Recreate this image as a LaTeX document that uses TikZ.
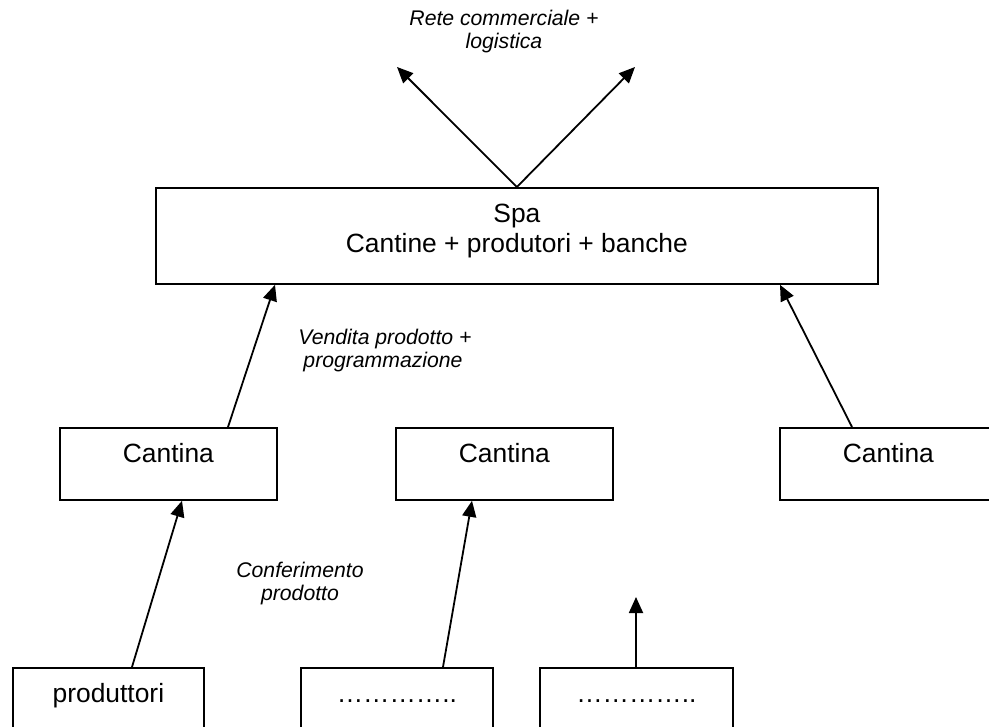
\documentclass[tikz,border=0pt]{standalone}
\usepackage{fontspec}
\setmainfont{Liberation Sans}
\usetikzlibrary{arrows.meta}
\begin{document}
\begin{tikzpicture}[x=1pt,y=-1pt,
  boxx/.style={draw=black,line width=1.8pt,rectangle,anchor=north west,inner sep=0pt},
  btxt/.style={anchor=base,inner sep=0pt,font=\fontsize{26.4}{30}\selectfont},
  itxt/.style={anchor=base,inner sep=0pt,font=\fontsize{21.2}{23}\selectfont\itshape},
  arr/.style={line width=1.8pt,-{Triangle[length=16pt,width=14pt]}}]
\useasboundingbox (0,0) rectangle (989,727);
% boxes
\node[boxx,minimum width=722pt,minimum height=96pt] (spa) at (155,187) {};
\node[boxx,minimum width=217pt,minimum height=72pt] (c1) at (59,427) {};
\node[boxx,minimum width=217pt,minimum height=72pt] (c2) at (395,427) {};
\node[boxx,minimum width=217pt,minimum height=72pt] (c3) at (779,427) {};
\node[boxx,minimum width=191pt,minimum height=80pt] (p1) at (12,667) {};
\node[boxx,minimum width=192pt,minimum height=80pt] (d1) at (300,667) {};
\node[boxx,minimum width=193pt,minimum height=80pt] (d2) at (539,667) {};
% box texts
\node[btxt] (spat1) at ([yshift=-36pt]spa.north) {Spa};
\node[btxt] (spat2) at ([yshift=-66pt]spa.north) {Cantine + produtori + banche};
\node[btxt] (c1t) at ([yshift=-36pt]c1.north) {Cantina};
\node[btxt] (c2t) at ([yshift=-36pt]c2.north) {Cantina};
\node[btxt] (c3t) at ([yshift=-36pt]c3.north) {Cantina};
\node[btxt] (p1t) at ([yshift=-35pt]p1.north) {produttori};
\node[btxt] (d1t) at ([yshift=-35pt]d1.north) {…………..};
\node[btxt] (d2t) at ([yshift=-35pt]d2.north) {…………..};
% italic labels
\node[itxt] (r1) at (504,26) {Rete commerciale +};
\node[itxt] (r2) at (504,49) {logistica};
\node[itxt] (v1) at (385,345) {Vendita prodotto +};
\node[itxt] (v2) at (383,368) {programmazione};
\node[itxt] (k1) at (300,577) {Conferimento};
\node[itxt] (k2) at (300,600) {prodotto};
% free ends
\coordinate (tl) at (397,67);
\coordinate (tr) at (635,67);
\coordinate (up) at (636,597);
% connectors
\draw[arr] (spa.north) -- (tl);
\draw[arr] (spa.north) -- (tr);
\draw[arr] ([xshift=169pt]c1.north west) -- ([xshift=120pt]spa.south west);
\draw[arr] ([xshift=73pt]c3.north west) -- ([xshift=625pt]spa.south west);
\draw[arr] ([xshift=120pt]p1.north west) -- ([xshift=123pt]c1.south west);
\draw[arr] ([xshift=143pt]d1.north west) -- ([xshift=77pt]c2.south west);
\draw[arr] ([xshift=97pt]d2.north west) -- (up);
\end{tikzpicture}
\end{document}
